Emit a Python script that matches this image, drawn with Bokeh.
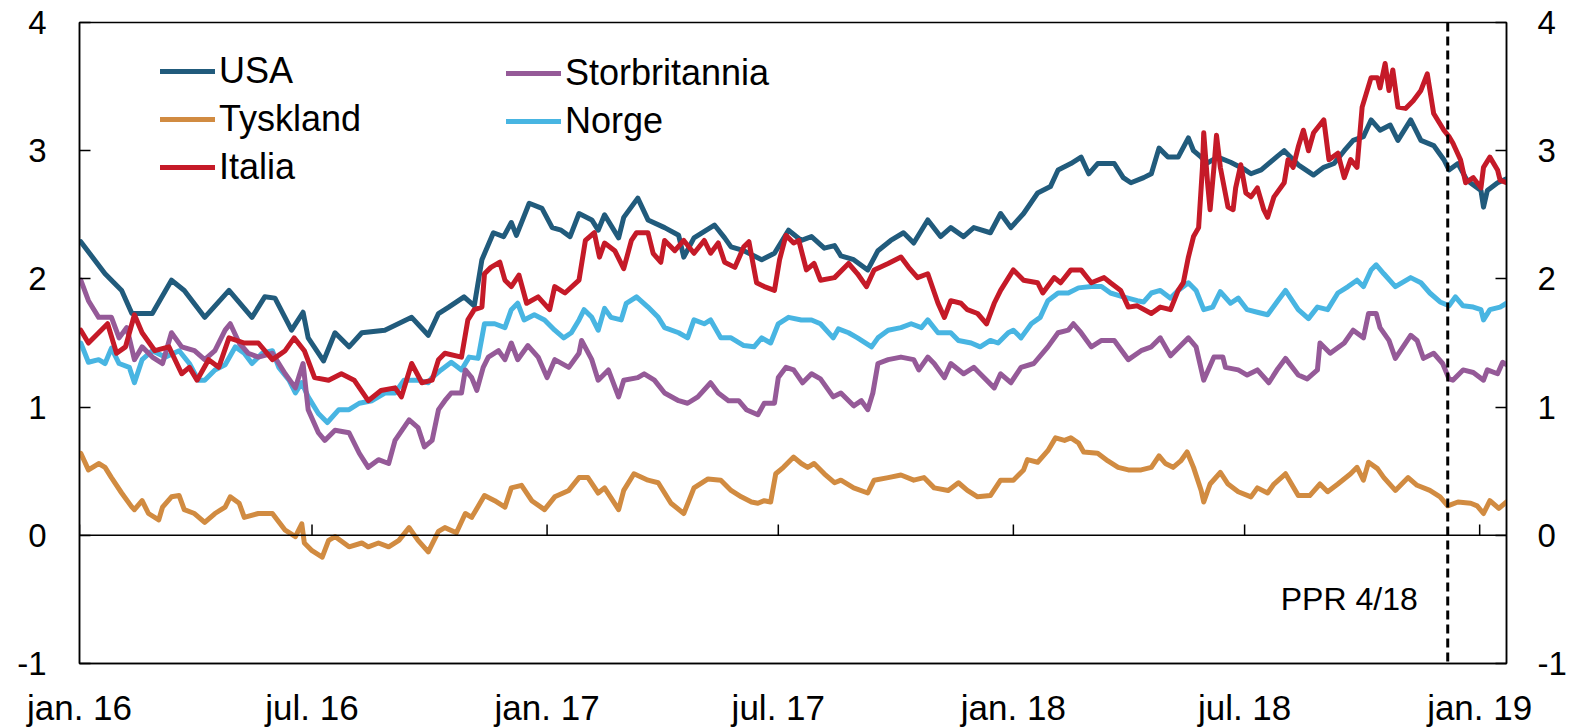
import pandas as pd
from bokeh.plotting import figure
from bokeh.models import Range1d, FixedTicker, LinearAxis, Span, Label, Legend, LegendItem
from bokeh.embed import file_html
from bokeh.resources import INLINE

# ---------------- data (10-year government bond yields, percent) ----------------
START = "2016-01-01"          # day 0 of the day offsets below
END = "2019-01-22"
PPR_DATE = "2018-12-07"
PPR_TEXT = "PPR 4/18"

x_tick_dates = ["2016-01-01", "2016-07-01", "2017-01-01", "2017-07-01",
                "2018-01-01", "2018-07-01", "2019-01-01"]
x_tick_labels = ["jan. 16", "jul. 16", "jan. 17", "jul. 17", "jan. 18", "jul. 18", "jan. 19"]
y_ticks = [-1, 0, 1, 2, 3, 4]
y_tick_labels = ["-1", "0", "1", "2", "3", "4"]

series_names = ["USA", "Tyskland", "Italia", "Storbritannia", "Norge"]

usa_day = [1, 20, 33, 41, 57, 72, 82, 98, 117, 135, 145, 153, 166, 175, 179, 191, 200, 211, 221, 239,
           260, 273, 281, 289, 301, 309, 315, 324, 332, 338, 342, 352, 362, 370, 377, 384, 391, 401, 406, 411,
           422, 426, 437, 445, 458, 469, 473, 481, 497, 505, 510, 520, 534, 544, 555, 565, 573, 583, 591, 596,
           606, 617, 625, 635, 645, 653, 664, 674, 682, 692, 700, 713, 721, 729, 739, 750, 760, 766, 776, 784,
           790, 797, 810, 817, 823, 833, 839, 845, 852, 860, 868, 872, 878, 882, 891, 901, 911, 917, 925, 938,
           943, 954, 966, 974, 982, 990, 997, 1005, 1011, 1018, 1026, 1032, 1042, 1050, 1060, 1068, 1072, 1079,
           1086, 1097, 1099, 1102, 1110, 1117]
usa = [2.29, 2.04, 1.91, 1.73, 1.73, 1.99, 1.91, 1.70, 1.91, 1.70, 1.86, 1.85, 1.60, 1.74, 1.54, 1.36, 1.58, 1.47, 1.58, 1.60,
       1.70, 1.56, 1.73, 1.78, 1.86, 1.79, 2.15, 2.36, 2.33, 2.44, 2.34, 2.59, 2.55, 2.40, 2.38, 2.33, 2.51, 2.46, 2.38, 2.50,
       2.32, 2.48, 2.63, 2.46, 2.40, 2.34, 2.17, 2.32, 2.42, 2.32, 2.25, 2.22, 2.15, 2.20, 2.38, 2.30, 2.33, 2.24, 2.26, 2.18,
       2.15, 2.07, 2.22, 2.30, 2.36, 2.28, 2.46, 2.33, 2.40, 2.33, 2.40, 2.36, 2.51, 2.40, 2.51, 2.67, 2.72, 2.85, 2.90, 2.95,
       2.82, 2.90, 2.90, 2.79, 2.75, 2.79, 2.82, 3.02, 2.95, 2.95, 3.10, 3.00, 2.95, 2.90, 2.95, 2.91, 2.86, 2.82, 2.85, 2.96,
       3.00, 2.89, 2.81, 2.87, 2.90, 3.00, 3.08, 3.11, 3.24, 3.16, 3.20, 3.08, 3.24, 3.08, 3.04, 2.93, 2.85, 2.90,
       2.77, 2.69, 2.56, 2.69, 2.75, 2.78]

tyskland_day = [1, 7, 15, 20, 25, 33, 41, 43, 49, 54, 62, 65, 72, 78, 82, 90, 98, 106, 114, 118,
                125, 129, 140, 151, 161, 169, 174, 176, 182, 190, 195, 200, 211, 221, 226, 234, 242, 250, 258, 265,
                273, 281, 286, 295, 302, 307, 317, 325, 333, 338, 346, 354, 364, 372, 383, 391, 398, 406, 411, 422,
                426, 434, 445, 453, 463, 473, 481, 492, 502, 510, 518, 526, 531, 536, 541, 545, 551, 559, 565, 570,
                575, 583, 591, 596, 606, 617, 622, 633, 643, 653, 661, 669, 680, 688, 695, 703, 713, 721, 731, 739,
                742, 750, 758, 764, 771, 776, 782, 786, 797, 805, 813, 821, 831, 839, 845, 850, 856, 862, 867, 872,
                878, 880, 885, 893, 899, 907, 917, 922, 930, 935, 944, 954, 963, 971, 977, 985, 995, 1000, 1005, 1009,
                1016, 1021, 1030, 1040, 1047, 1057, 1065, 1071, 1079, 1089, 1094, 1099, 1104, 1111, 1117]
tyskland = [0.64, 0.51, 0.56, 0.53, 0.45, 0.33, 0.22, 0.20, 0.27, 0.17, 0.12, 0.22, 0.30, 0.31, 0.20, 0.17, 0.10, 0.17, 0.22, 0.30,
            0.25, 0.14, 0.17, 0.17, 0.04, -0.01, 0.09, -0.06, -0.12, -0.17, -0.04, -0.01, -0.09, -0.06, -0.09, -0.06, -0.09, -0.04, 0.06, -0.04,
            -0.13, 0.03, 0.06, 0.02, 0.17, 0.14, 0.31, 0.27, 0.22, 0.37, 0.39, 0.27, 0.20, 0.30, 0.35, 0.45, 0.45, 0.33, 0.37, 0.20,
            0.35, 0.48, 0.43, 0.41, 0.25, 0.17, 0.37, 0.44, 0.43, 0.35, 0.30, 0.26, 0.25, 0.27, 0.26, 0.48, 0.53, 0.61, 0.56, 0.53,
            0.56, 0.48, 0.41, 0.43, 0.37, 0.33, 0.43, 0.45, 0.47, 0.43, 0.45, 0.37, 0.35, 0.41, 0.35, 0.30, 0.31, 0.43, 0.43, 0.51,
            0.59, 0.57, 0.66, 0.76, 0.74, 0.76, 0.72, 0.65, 0.64, 0.58, 0.53, 0.51, 0.51, 0.53, 0.62, 0.56, 0.53, 0.58, 0.65, 0.53,
            0.35, 0.26, 0.40, 0.49, 0.40, 0.34, 0.30, 0.37, 0.33, 0.40, 0.48, 0.31, 0.31, 0.40, 0.34, 0.40, 0.48, 0.53, 0.43, 0.57,
            0.52, 0.45, 0.35, 0.45, 0.39, 0.35, 0.30, 0.23, 0.26, 0.25, 0.23, 0.17, 0.27, 0.21, 0.26]

italia_day = [1, 7, 15, 22, 29, 36, 43, 49, 59, 70, 80, 86, 92, 101, 109, 117, 129, 140, 151, 161,
              168, 176, 184, 195, 205, 215, 226, 236, 247, 252, 260, 268, 276, 281, 286, 299, 304, 309, 315, 317,
              322, 329, 333, 338, 344, 350, 359, 368, 372, 380, 391, 396, 403, 407, 411, 419, 426, 432, 436, 445,
              449, 455, 458, 466, 473, 481, 489, 494, 500, 505, 513, 520, 524, 530, 536, 544, 548, 553, 559, 563,
              569, 575, 580, 591, 602, 609, 616, 622, 633, 643, 649, 656, 664, 672, 677, 682, 690, 695, 703, 710,
              716, 721, 731, 739, 750, 754, 763, 768, 776, 784, 792, 802, 807, 815, 821, 828, 839, 846, 854, 860,
              864, 868, 872, 876, 879, 880, 883, 885, 888, 890, 893, 899, 903, 905, 909, 913, 917, 922, 927, 930,
              935, 943, 946, 950, 954, 958, 962, 966, 974, 978, 985, 990, 995, 1000, 1004, 1011, 1016, 1018, 1022, 1025,
              1028, 1032, 1038, 1044, 1050, 1055, 1060, 1068, 1072, 1075, 1081, 1085, 1091, 1097, 1099, 1104, 1110, 1112, 1117]
italia = [1.60, 1.50, 1.58, 1.65, 1.42, 1.47, 1.72, 1.58, 1.44, 1.47, 1.26, 1.31, 1.21, 1.37, 1.31, 1.54, 1.50, 1.50, 1.37, 1.44,
          1.54, 1.44, 1.23, 1.21, 1.26, 1.21, 1.05, 1.13, 1.15, 1.08, 1.34, 1.19, 1.21, 1.37, 1.42, 1.39, 1.68, 1.76, 1.78, 2.04,
          2.09, 2.13, 1.99, 1.94, 2.03, 1.81, 1.86, 1.76, 1.94, 1.89, 1.99, 2.30, 2.36, 2.17, 2.28, 2.22, 2.08, 2.30, 2.36, 2.36,
          2.20, 2.13, 2.30, 2.22, 2.30, 2.20, 2.30, 2.20, 2.28, 2.13, 2.09, 2.25, 2.29, 1.97, 1.94, 1.91, 2.15, 2.34, 2.28, 2.30,
          2.07, 2.12, 1.99, 2.01, 2.12, 2.04, 1.94, 2.07, 2.12, 2.17, 2.09, 2.01, 2.04, 1.81, 1.70, 1.83, 1.81, 1.76, 1.73, 1.65,
          1.81, 1.91, 2.07, 1.99, 1.97, 1.89, 2.01, 1.97, 2.07, 2.07, 1.97, 2.01, 1.97, 1.91, 1.78, 1.79, 1.73, 1.78, 1.76, 1.91,
          1.97, 2.17, 2.33, 2.40, 2.87, 3.14, 2.75, 2.54, 2.87, 3.12, 2.87, 2.56, 2.54, 2.71, 2.89, 2.67, 2.64, 2.71, 2.54, 2.48,
          2.64, 2.75, 2.93, 2.87, 3.03, 3.16, 3.00, 3.14, 3.24, 2.93, 2.98, 2.79, 2.93, 2.87, 3.34, 3.57, 3.57, 3.49, 3.68, 3.47,
          3.63, 3.34, 3.33, 3.39, 3.47, 3.60, 3.29, 3.16, 3.11, 3.06, 2.93, 2.75, 2.79, 2.71, 2.87, 2.95, 2.85, 2.77, 2.75]

storbritannia_day = [1, 7, 15, 25, 31, 37, 43, 49, 57, 65, 72, 80, 90, 98, 106, 114, 118, 125, 132, 140,
                     151, 161, 169, 175, 179, 187, 192, 200, 211, 219, 226, 234, 242, 247, 258, 265, 270, 276, 281, 286,
                     291, 299, 302, 307, 311, 316, 320, 328, 333, 338, 343, 351, 359, 366, 372, 383, 391, 393, 401, 406,
                     414, 422, 426, 437, 442, 450, 458, 469, 476, 484, 494, 500, 508, 516, 522, 531, 536, 544, 547, 553,
                     559, 566, 573, 580, 590, 596, 606, 612, 617, 621, 625, 633, 643, 653, 657, 664, 669, 677, 682, 692,
                     700, 705, 716, 721, 729, 737, 747, 758, 766, 774, 778, 784, 792, 800, 810, 821, 831, 839, 846, 854,
                     862, 868, 874, 880, 888, 895, 897, 907, 914, 922, 931, 938, 944, 954, 961, 969, 971, 979, 990, 997,
                     1005, 1009, 1015, 1018, 1025, 1030, 1042, 1047, 1052, 1060, 1067, 1072, 1075, 1083, 1091, 1099, 1102,
                     1110, 1114, 1117]
storbritannia = [1.99, 1.83, 1.70, 1.70, 1.54, 1.62, 1.37, 1.47, 1.39, 1.34, 1.58, 1.47, 1.44, 1.37, 1.44, 1.60, 1.65, 1.50, 1.42, 1.39,
                 1.42, 1.26, 1.15, 1.34, 0.98, 0.80, 0.74, 0.82, 0.80, 0.64, 0.53, 0.59, 0.56, 0.74, 0.90, 0.84, 0.69, 0.74, 0.98, 1.05,
                 1.11, 1.11, 1.29, 1.23, 1.13, 1.31, 1.39, 1.44, 1.37, 1.50, 1.37, 1.48, 1.39, 1.23, 1.37, 1.31, 1.42, 1.52, 1.37, 1.21,
                 1.29, 1.08, 1.21, 1.23, 1.26, 1.21, 1.11, 1.05, 1.03, 1.08, 1.19, 1.11, 1.05, 1.05, 0.98, 0.94, 1.03, 1.03, 1.23, 1.31,
                 1.29, 1.19, 1.26, 1.22, 1.08, 1.11, 1.01, 1.05, 0.98, 1.11, 1.34, 1.37, 1.39, 1.37, 1.29, 1.39, 1.34, 1.23, 1.34, 1.26,
                 1.31, 1.26, 1.15, 1.26, 1.19, 1.31, 1.34, 1.47, 1.58, 1.60, 1.65, 1.58, 1.47, 1.52, 1.52, 1.37, 1.44, 1.47, 1.54, 1.40,
                 1.48, 1.54, 1.47, 1.21, 1.39, 1.39, 1.31, 1.29, 1.25, 1.29, 1.19, 1.30, 1.38, 1.25, 1.22, 1.29, 1.50, 1.42, 1.50, 1.60,
                 1.54, 1.73, 1.73, 1.62, 1.52, 1.38, 1.56, 1.52, 1.38, 1.42, 1.34, 1.22, 1.21, 1.29, 1.27, 1.21, 1.29,
                 1.26, 1.35, 1.33]

norge_day = [1, 7, 15, 20, 25, 31, 39, 43, 49, 57, 67, 78, 86, 93, 98, 106, 114, 122, 129, 135,
             143, 151, 156, 164, 169, 174, 179, 187, 194, 203, 211, 219, 229, 239, 247, 254, 265, 273, 276, 283,
             291, 299, 305, 312, 317, 325, 333, 338, 343, 348, 356, 364, 372, 379, 385, 391, 395, 401, 406, 411,
             416, 424, 428, 436, 445, 453, 458, 469, 476, 481, 489, 494, 502, 510, 520, 528, 534, 541, 547, 555,
             565, 573, 580, 590, 594, 602, 609, 620, 625, 633, 643, 651, 659, 664, 672, 682, 688, 698, 705, 713,
             719, 727, 731, 737, 745, 752, 758, 766, 774, 782, 792, 800, 807, 817, 828, 833, 839, 846, 854, 860,
             868, 874, 880, 887, 893, 901, 907, 914, 922, 930, 938, 944, 954, 962, 969, 977, 985, 993, 1000, 1005,
             1011, 1015, 1021, 1030, 1042, 1050, 1057, 1065, 1072, 1077, 1083, 1091, 1097, 1099, 1104, 1112, 1117]
norge = [1.50, 1.35, 1.37, 1.34, 1.46, 1.34, 1.31, 1.19, 1.37, 1.44, 1.39, 1.44, 1.34, 1.21, 1.21, 1.29, 1.33, 1.47, 1.42, 1.34,
         1.42, 1.44, 1.31, 1.21, 1.11, 1.19, 1.08, 0.95, 0.88, 0.98, 0.98, 1.03, 1.05, 1.11, 1.11, 1.21, 1.21, 1.19, 1.23, 1.29,
         1.35, 1.29, 1.39, 1.38, 1.65, 1.65, 1.62, 1.76, 1.81, 1.68, 1.72, 1.68, 1.60, 1.54, 1.58, 1.68, 1.76, 1.70, 1.60, 1.77,
         1.70, 1.68, 1.81, 1.86, 1.78, 1.70, 1.62, 1.58, 1.54, 1.68, 1.65, 1.68, 1.54, 1.54, 1.48, 1.47, 1.54, 1.50, 1.65, 1.70,
         1.68, 1.68, 1.65, 1.54, 1.61, 1.58, 1.54, 1.47, 1.54, 1.60, 1.62, 1.65, 1.62, 1.68, 1.58, 1.58, 1.52, 1.50, 1.47, 1.52,
         1.50, 1.58, 1.60, 1.54, 1.65, 1.70, 1.83, 1.89, 1.89, 1.93, 1.94, 1.94, 1.89, 1.86, 1.83, 1.82, 1.89, 1.91, 1.85, 1.91,
         1.97, 1.91, 1.76, 1.78, 1.90, 1.81, 1.85, 1.76, 1.74, 1.72, 1.83, 1.91, 1.76, 1.69, 1.78, 1.76, 1.89, 1.94, 1.99, 1.94,
         2.07, 2.11, 2.04, 1.94, 2.01, 1.97, 1.89, 1.82, 1.79, 1.86, 1.79, 1.78, 1.76, 1.68, 1.76, 1.78, 1.81]

colors = {"USA": "#215b7c", "Tyskland": "#d18b41", "Italia": "#c51a28",
          "Storbritannia": "#955a98", "Norge": "#48b5e2"}

# ---------------- helpers ----------------
t0 = pd.Timestamp(START)
def to_day(d):
    return (pd.Timestamp(d) - t0).days

tick_days = [to_day(d) for d in x_tick_dates]
end_day = to_day(END)
ppr_day = to_day(PPR_DATE)

FONT = "Liberation Sans"

p = figure(frame_width=1427, frame_height=641,
           x_range=Range1d(0, end_day), y_range=Range1d(-1, 4),
           output_backend="svg", toolbar_location=None,
           min_border_left=79, min_border_top=22, min_border_right=62, min_border_bottom=40)
p.background_fill_color = "white"
p.border_fill_color = "white"
p.outline_line_color = "black"
p.outline_line_width = 1.5
p.grid.visible = False

# bottom axis: labels only
xa = p.xaxis[0]
xa.ticker = FixedTicker(ticks=tick_days)
xa.major_label_overrides = {d: lab for d, lab in zip(tick_days, x_tick_labels)}
xa.major_tick_in = 0
xa.major_tick_out = 0
xa.minor_tick_line_color = None
xa.axis_line_color = "black"
xa.axis_line_width = 1.5
xa.major_label_standoff = 24
xa.major_label_text_font = FONT
xa.major_label_text_font_size = "35px"
xa.major_label_text_color = "black"

def style_y(ax, standoff):
    ax.ticker = FixedTicker(ticks=y_ticks)
    ax.major_label_overrides = {t: s for t, s in zip(y_ticks, y_tick_labels)}
    ax.major_tick_in = 11
    ax.major_tick_out = 0
    ax.major_tick_line_width = 1.5
    ax.major_tick_line_color = "black"
    ax.minor_tick_line_color = None
    ax.axis_line_color = "black"
    ax.axis_line_width = 1.5
    ax.major_label_standoff = standoff
    ax.major_label_text_font = FONT
    ax.major_label_text_font_size = "33px"
    ax.major_label_text_color = "black"

style_y(p.yaxis[0], 33)
ry = LinearAxis()
style_y(ry, 31)
p.add_layout(ry, "right")

# zero line and x ticks on it
p.add_layout(Span(location=0, dimension="width", line_color="black", line_width=1.5))
p.segment(x0=tick_days, y0=[0] * len(tick_days), x1=tick_days, y1=[0.085] * len(tick_days),
          line_color="black", line_width=1.5)

# series
data = {
    "USA": (usa_day, usa),
    "Tyskland": (tyskland_day, tyskland),
    "Italia": (italia_day, italia),
    "Storbritannia": (storbritannia_day, storbritannia),
    "Norge": (norge_day, norge),
}
renderers = {}
for name in ["Norge", "Storbritannia", "Tyskland", "USA", "Italia"]:
    d, v = data[name]
    renderers[name] = p.line(d, v, line_color=colors[name], line_width=5,
                             line_join="round", line_cap="round")

# PPR marker
p.add_layout(Span(location=ppr_day, dimension="height", line_color="black",
                  line_width=3, line_dash="9 5"))
p.add_layout(Label(x=ppr_day, y=-0.5, text=PPR_TEXT, text_align="right", text_baseline="middle",
                   x_offset=-30, text_font=FONT, text_font_size="32px", text_color="black"))

# legends (two columns)
def make_legend(names, loc):
    lg = Legend(items=[LegendItem(label=n, renderers=[renderers[n]]) for n in names],
                location=loc, orientation="vertical",
                label_text_font=FONT, label_text_font_size="36px", label_text_color="black",
                glyph_width=55, glyph_height=40, label_height=40, label_standoff=4,
                spacing=6, padding=0, margin=0,
                border_line_color=None, background_fill_alpha=0)
    return lg

p.add_layout(make_legend(series_names[:3], (81, 475)))
p.add_layout(make_legend(series_names[3:], (427, 521)))

open("out.html", "w").write(file_html(p, INLINE))
